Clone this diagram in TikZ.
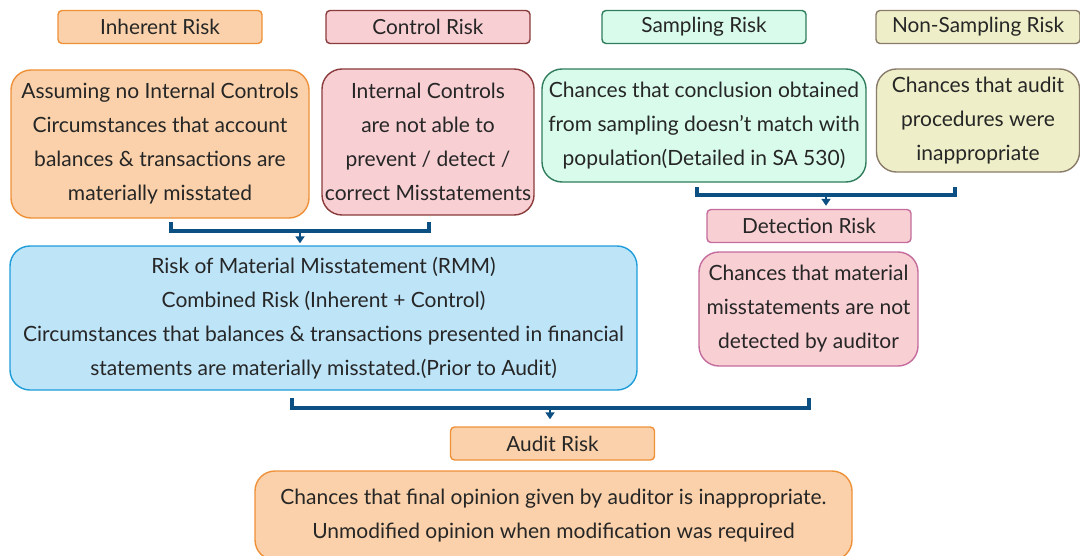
\documentclass[tikz,border=0pt]{standalone}
\usepackage{fontspec}
\setmainfont{Lato}
\usetikzlibrary{arrows.meta}

\definecolor{inhfill}{HTML}{FAD1AA}
\definecolor{inhdraw}{HTML}{EF9139}
\definecolor{ctlfill}{HTML}{F8CFD3}
\definecolor{ctldraw}{HTML}{8A3B3B}
\definecolor{smpfill}{HTML}{D8FBEB}
\definecolor{smpdraw}{HTML}{2F7D5C}
\definecolor{nsmfill}{HTML}{EEEFC8}
\definecolor{nsmdraw}{HTML}{8A7B6B}
\definecolor{detdraw}{HTML}{C46C9C}
\definecolor{rmmfill}{HTML}{BEE4F8}
\definecolor{rmmdraw}{HTML}{1E9DDA}
\definecolor{linkblue}{HTML}{0C4F83}
\definecolor{inktext}{HTML}{262626}

\begin{document}
\begin{tikzpicture}[
  x=0.5pt, y=-0.5pt,
  >={Triangle[width=4.5pt,length=3.5pt]},
  riskhead/.style={rectangle, rounded corners=2pt, line width=0.7pt,
                   minimum width=102pt, minimum height=16.5pt, inner sep=0pt,
                   font=\fontsize{10.4}{12}\selectfont, text=inktext},
  riskbody/.style={rectangle, rounded corners=10pt, line width=0.7pt,
                   inner sep=0pt, align=center, text=inktext,
                   font=\fontsize{10.5}{17}\selectfont},
  bracket/.style={draw=linkblue, line width=1.8pt},
  feed/.style={->, draw=linkblue, fill=linkblue, line width=1pt}
]
\useasboundingbox (0,0) rectangle (1080,556);

% risk headings
\node[riskhead, fill=inhfill, draw=inhdraw] (ir)  at (160,27)   {Inherent Risk};
\node[riskhead, fill=ctlfill, draw=ctldraw] (cr)  at (428,27)   {Control Risk};
\node[riskhead, fill=smpfill, draw=smpdraw] (sr)  at (704,27)   {Sampling Risk};
\node[riskhead, fill=nsmfill, draw=nsmdraw] (nsr) at (978,27)   {Non-Sampling Risk};

% descriptions
\node[riskbody, fill=inhfill, draw=inhdraw, minimum width=149pt, minimum height=74pt]
  (irb) at (160,144) {Assuming no Internal Controls\\Circumstances that account\\balances \& transactions are\\materially misstated};
\node[riskbody, fill=ctlfill, draw=ctldraw, minimum width=106pt, minimum height=73pt]
  (crb) at (428,142) {Internal Controls\\are not able to\\prevent / detect /\\correct Misstatements};
\node[riskbody, fill=smpfill, draw=smpdraw, minimum width=162pt, minimum height=56.5pt]
  (srb) at (704,125.5) {Chances that conclusion obtained\\from sampling doesn't match with\\population(Detailed in SA 530)};
\node[riskbody, fill=nsmfill, draw=nsmdraw, minimum width=101.5pt, minimum height=51.5pt]
  (nsrb) at (978,120.5) {Chances that audit\\procedures were\\inappropriate};

% combined level
\node[riskbody, fill=rmmfill, draw=rmmdraw, minimum width=313.5pt, minimum height=72pt]
  (rmm) at (323.5,318) {Risk of Material Misstatement (RMM)\\Combined Risk (Inherent + Control)\\Circumstances that balances \& transactions presented in financial\\statements are materially misstated.(Prior to Audit)};
\node[riskhead, fill=ctlfill, draw=detdraw] (dr) at (809,226) {Detection Risk};
\node[riskbody, fill=ctlfill, draw=detdraw, minimum width=109.5pt, minimum height=57pt]
  (drb) at (808.5,309) {Chances that material\\misstatements are not\\detected by auditor};

% overall
\node[riskhead, fill=inhfill, draw=inhdraw] (ar) at (552.5,443.5) {Audit Risk};
\node[riskbody, fill=inhfill, draw=inhdraw, minimum width=298.5pt, minimum height=44.5pt]
  (arb) at (553.5,515.5) {Chances that final opinion given by auditor is inappropriate.\\Unmodified opinion when modification was required};

% brackets joining the levels
\coordinate (b1l) at (171,222);  \coordinate (b1r) at (429,222);  \coordinate (b1m) at (300,231);
\coordinate (b2l) at (697,187);  \coordinate (b2r) at (955,187);  \coordinate (b2m) at (826,195);
\coordinate (b3l) at (292,398);  \coordinate (b3r) at (809,398);  \coordinate (b3m) at (550,408);

\draw[bracket] (b1l) -- ++(0,9) -| (b1r);
\draw[feed, shorten >=1pt] (b1m) -- (rmm.north -| b1m);
\draw[bracket] (b2l) -- ++(0,8) -| (b2r);
\draw[feed, shorten >=1.5pt] (b2m) -- (dr.north -| b2m);
\draw[bracket] (b3l) -- ++(0,10) -| (b3r);
\draw[feed, shorten >=3.5pt] (b3m) -- (ar.north -| b3m);
\end{tikzpicture}
\end{document}
